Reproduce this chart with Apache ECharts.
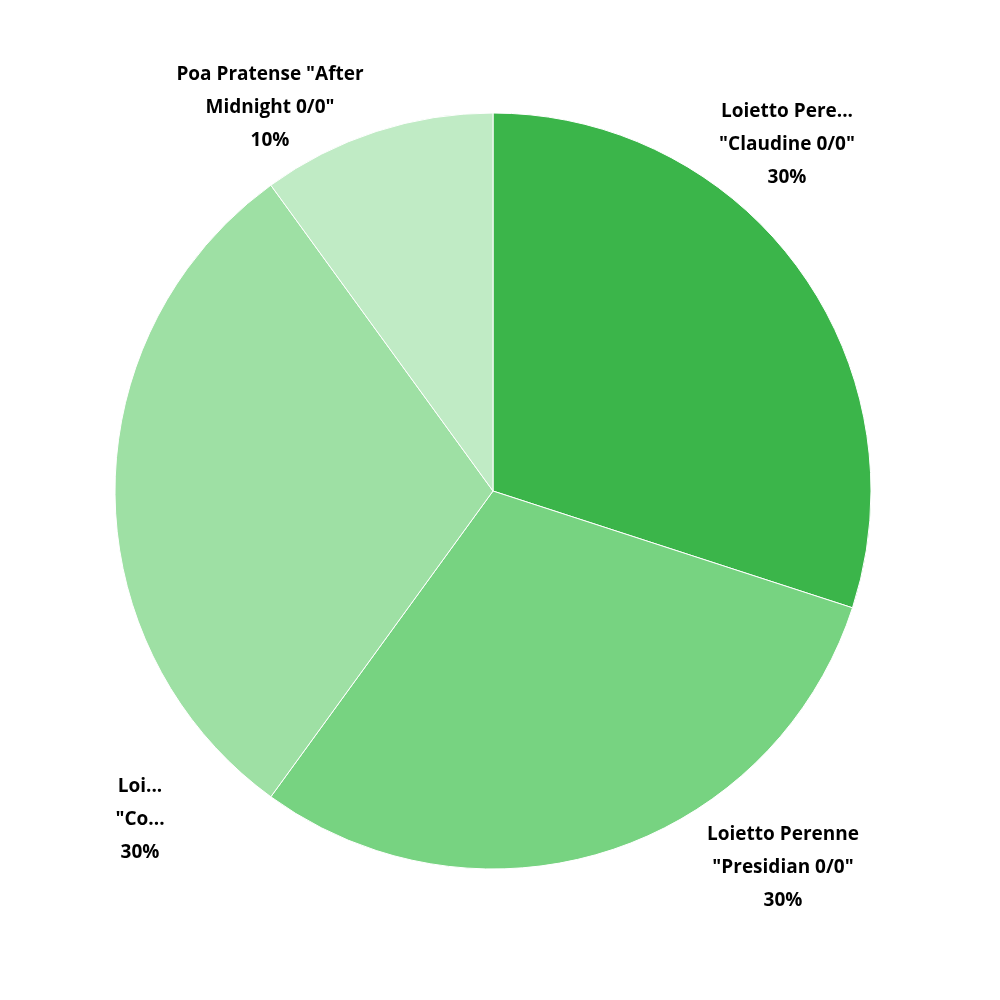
<!DOCTYPE html>
<html><head><meta charset="utf-8">
<script src="https://cdn.jsdelivr.net/npm/echarts@6/dist/echarts.min.js"></script>
<style>html,body{margin:0;background:#fff}#c{width:1000px;height:1000px}</style>
</head><body><div id="c"></div>
<script>
const categories = ['Loietto Perenne\n"Claudine 0/0"', 'Loietto Perenne\n"Presidian 0/0"', 'Loietto Perenne\n"Corsica 0/0"', 'Poa Pratense "After\nMidnight 0/0"'];
const values = [30, 30, 30, 10];
const colors = ['#3bb54a', '#77d381', '#9ee0a4', '#c0ebc5'];
const labelPos = [[787, 145], [783, 868], [140, 820], [270, 108]];
const chart = echarts.init(document.getElementById('c'));
chart.setOption({
  series: [{
    type: 'pie', center: [493, 491], radius: 378, startAngle: 90, clockwise: true,
    itemStyle: { borderColor: '#fff', borderWidth: 1 },
    label: { show: true, position: 'outside', formatter: p => p.name + '\n' + p.value + '%',
      fontFamily: 'Open Sans', fontWeight: 'bold', fontSize: 19, color: '#000', lineHeight: 33, align: 'center' },
    labelLine: { show: false },
    labelLayout: p => ({ x: labelPos[p.dataIndex][0], y: labelPos[p.dataIndex][1], align: 'center', verticalAlign: 'middle' }),
    emphasis: { disabled: true },
    data: categories.map((n, i) => ({ name: n, value: values[i], itemStyle: { color: colors[i] } }))
  }]
});
</script></body></html>
